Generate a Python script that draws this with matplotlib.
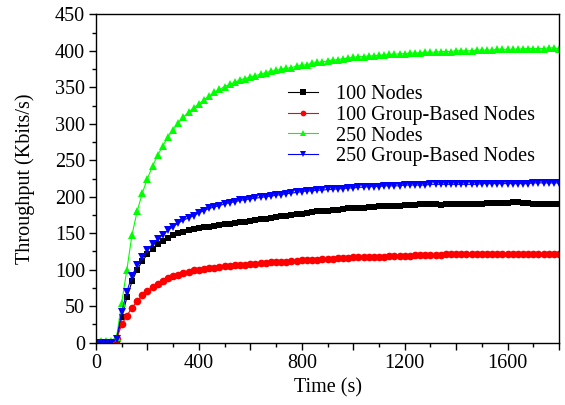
import matplotlib
matplotlib.use("Agg")
import matplotlib.pyplot as plt
from matplotlib.ticker import MultipleLocator, FuncFormatter

plt.rcParams['font.family'] = ['Liberation Serif', 'DejaVu Serif']

time_s = list(range(0, 1801, 20))

nodes_100 = [
    0, 0, 0, 0, 3, 35, 62, 84, 100, 112,
    121, 129, 135, 140, 144, 147, 150, 152, 154, 156,
    157, 158, 159, 160, 161, 162, 163, 164, 165, 166,
    167, 168, 169, 170, 171, 172, 173, 174, 175, 176,
    177, 178, 179, 180, 180, 181, 182, 182, 183, 184,
    184, 185, 185, 186, 186, 187, 187, 188, 188, 188,
    189, 189, 189, 190, 190, 190, 190, 189, 190, 190,
    190, 190, 190, 190, 190, 190, 191, 191, 191, 191,
    191, 193, 193, 192, 191, 190, 190, 190, 190, 190,
    190]

group_100 = [
    0, 0, 0, 0, 5, 25, 37, 48, 57, 65,
    71, 76, 81, 85, 88, 91, 93, 95, 97, 99,
    100, 101, 102, 103, 104, 105, 105, 106, 107, 107,
    108, 108, 109, 109, 110, 110, 111, 111, 112, 112,
    113, 113, 114, 114, 115, 115, 115, 116, 116, 116,
    117, 117, 117, 118, 118, 118, 118, 119, 119, 119,
    119, 119, 120, 120, 120, 120, 120, 120, 121, 121,
    121, 121, 121, 121, 121, 121, 122, 122, 122, 122,
    122, 122, 122, 122, 122, 122, 122, 122, 122, 122,
    122]

nodes_250 = [
    2, 2, 2, 2, 8, 55, 100, 148, 180, 205,
    225, 242, 257, 270, 282, 292, 301, 309, 316, 322,
    327, 333, 338, 343, 347, 351, 354, 357, 360, 362,
    364, 366, 368, 370, 372, 373, 375, 376, 377, 379,
    380, 381, 383, 384, 385, 386, 387, 388, 389, 390,
    391, 392, 392, 393, 393, 394, 394, 395, 395, 396,
    396, 397, 397, 397, 398, 398, 398, 399, 399, 399,
    400, 400, 400, 400, 401, 401, 401, 401, 402, 402,
    402, 402, 402, 403, 403, 403, 403, 403, 404, 404,
    403]

group_250 = [
    0, 0, 0, 0, 5, 42, 70, 92, 106, 118,
    127, 135, 142, 148, 154, 159, 164, 168, 171, 174,
    178, 181, 184, 186, 188, 190, 192, 193, 195, 196,
    197, 198, 199, 200, 201, 202, 203, 204, 205, 206,
    207, 208, 208, 209, 209, 210, 210, 211, 211, 212,
    212, 213, 213, 214, 214, 214, 215, 215, 215, 215,
    216, 216, 216, 216, 216, 217, 217, 217, 217, 217,
    217, 217, 217, 217, 217, 218, 218, 218, 218, 218,
    218, 218, 218, 218, 218, 219, 219, 219, 219, 219,
    219]

series = [
    ("100 Nodes", nodes_100, "#000000", "s", 5.0),
    ("100 Group-Based Nodes", group_100, "#ff0000", "o", 5.5),
    ("250 Nodes", nodes_250, "#00ff00", "^", 6.0),
    ("250 Group-Based Nodes", group_250, "#0000ff", "v", 6.0),
]

FS = 14.5

fig = plt.figure(figsize=(5.65, 4.05), dpi=100)
ax = fig.add_axes([96/565, 1-342.7/405, (559-96)/565, (342.7-14.3)/405])

handles = []
for label, vals, color, marker, ms in series:
    h, = ax.plot(time_s, vals, color=color, marker=marker, markersize=ms,
                 linewidth=0.8, markeredgewidth=0, label=label)
    handles.append(h)

ax.set_xlim(0, 1800)
ax.set_ylim(0, 450)
ax.xaxis.set_major_locator(MultipleLocator(200))
ax.xaxis.set_minor_locator(MultipleLocator(100))
ax.xaxis.set_major_formatter(FuncFormatter(lambda v, p: f"{int(v)}" if int(v) % 400 == 0 else ""))
ax.yaxis.set_major_locator(MultipleLocator(50))
ax.yaxis.set_minor_locator(MultipleLocator(25))

ax.tick_params(which='both', direction='out', top=False, right=False, width=1.0, labelsize=FS)
ax.tick_params(which='major', length=5, pad=3)
ax.tick_params(which='minor', length=3)
for s in ax.spines.values():
    s.set_linewidth(1.0)

ax.set_xlabel("Time (s)", fontsize=FS, labelpad=4)
ax.set_ylabel("Throughput (Kbits/s)", fontsize=FS, labelpad=14)

leg = ax.legend(handles=handles, loc='upper left', bbox_to_anchor=(288/565, 1-85/405),
                bbox_transform=fig.transFigure, frameon=False, fontsize=FS,
                borderpad=0, borderaxespad=0, handlelength=1.5, handletextpad=0.9,
                labelspacing=0.08, markerscale=0.75)

fig.savefig("out.png", dpi=100)
